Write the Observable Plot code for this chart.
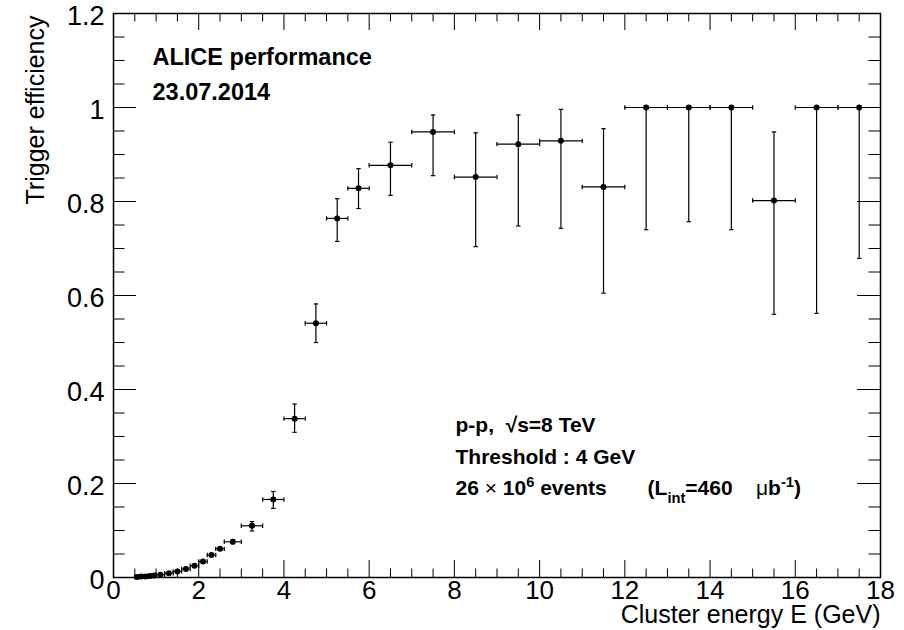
<!DOCTYPE html>
<html>
<head>
<meta charset="utf-8">
<script src="https://cdn.jsdelivr.net/npm/d3@7"></script>
<script src="https://cdn.jsdelivr.net/npm/@observablehq/plot@0.6"></script>
<style>
  html, body { margin: 0; padding: 0; background: #fff; }
  #chart svg text { white-space: pre; }
</style>
</head>
<body>
<div id="chart"></div>
<script>
// ---- data ----
const energy     = [0.55, 0.65, 0.75, 0.85, 0.95, 1.1, 1.3, 1.5, 1.7, 1.9, 2.1, 2.3, 2.5, 2.8, 3.25, 3.75, 4.25, 4.75, 5.25, 5.75, 6.5, 7.5, 8.5, 9.5, 10.5, 11.5, 12.5, 13.5, 14.5, 15.5, 16.5, 17.5];
const binHalf    = [0.05, 0.05, 0.05, 0.05, 0.05, 0.1, 0.1, 0.1, 0.1, 0.1, 0.1, 0.1, 0.1, 0.2, 0.25, 0.25, 0.25, 0.25, 0.25, 0.25, 0.5, 0.5, 0.5, 0.5, 0.5, 0.5, 0.5, 0.5, 0.5, 0.5, 0.5, 0.5];
const efficiency = [0.001, 0.002, 0.002, 0.003, 0.004, 0.006, 0.009, 0.013, 0.018, 0.025, 0.034, 0.048, 0.061, 0.076, 0.110, 0.166, 0.338, 0.541, 0.764, 0.828, 0.877, 0.948, 0.852, 0.922, 0.929, 0.831, 1.0, 1.0, 1.0, 0.802, 1.0, 1.0];
const errHigh    = [0.001, 0.001, 0.001, 0.001, 0.001, 0.001, 0.001, 0.002, 0.002, 0.002, 0.003, 0.003, 0.003, 0.004, 0.009, 0.017, 0.031, 0.041, 0.042, 0.042, 0.049, 0.036, 0.094, 0.062, 0.067, 0.124, 0.0, 0.0, 0.0, 0.146, 0.0, 0.0];
const errLow     = [0.001, 0.001, 0.001, 0.001, 0.001, 0.001, 0.001, 0.002, 0.002, 0.002, 0.003, 0.003, 0.003, 0.004, 0.011, 0.019, 0.029, 0.041, 0.049, 0.043, 0.064, 0.093, 0.148, 0.174, 0.186, 0.226, 0.260, 0.243, 0.260, 0.242, 0.438, 0.321];

const xTicks = [0, 2, 4, 6, 8, 10, 12, 14, 16, 18];
const yTicks = [0, 0.2, 0.4, 0.6, 0.8, 1, 1.2];
const xTitle = "Cluster energy E (GeV)";
const yTitle = "Trigger efficiency";
const aliceLines = ["ALICE performance", "23.07.2014"];
const infoLines = ["p-p,  √s=8 TeV", "Threshold : 4 GeV", "26 × 10^{6} events       (L_{int}=460    μb^{-1})"];

// ---- table built from the arrays ----
const points = energy.map((x, i) => ({
  x, y: efficiency[i],
  x1: x - binHalf[i], x2: Math.min(18, x + binHalf[i]),
  hi: efficiency[i] + errHigh[i], lo: efficiency[i] - errLow[i]
}));

// minor tick positions
const xMinor = d3.range(0, 18.001, 0.5).filter(v => Math.abs(v % 2) > 1e-9);
const yMinor = d3.range(0, 1.2001, 0.05).map(v => +v.toFixed(2)).filter(v => Math.abs((v * 5) - Math.round(v * 5)) > 1e-6);

// ---- layout ----
const W = 904, H = 630;
const mL = 113, mR = 24, mT = 13, mB = 53;
const plotW = W - mL - mR, plotH = H - mT - mB;
const font = "'Liberation Sans', Arial, Helvetica, sans-serif";

// cap symbols for error bar ends
const hCap = { draw(ctx, size) { const r = Math.sqrt(size / Math.PI); ctx.moveTo(-r, 0); ctx.lineTo(r, 0); } };
const vCap = { draw(ctx, size) { const r = Math.sqrt(size / Math.PI); ctx.moveTo(0, -r); ctx.lineTo(0, r); } };

const ink = "#000";
const chart = Plot.plot({
  width: W, height: H,
  marginLeft: mL, marginRight: mR, marginTop: mT, marginBottom: mB,
  style: { fontFamily: font, background: "#fff", color: ink, overflow: "visible" },
  x: { domain: [0, 18] },
  y: { domain: [0, 1.2] },
  marks: [
    // inward ticks: bottom / top
    Plot.tickX(xMinor, { x: d => d, insetTop: plotH - 8.5, stroke: ink }),
    Plot.tickX(xMinor, { x: d => d, insetBottom: plotH - 8.5, stroke: ink }),
    Plot.tickX(xTicks, { x: d => d, insetTop: plotH - 17, stroke: ink }),
    Plot.tickX(xTicks, { x: d => d, insetBottom: plotH - 17, stroke: ink }),
    // inward ticks: left / right
    Plot.tickY(yMinor, { y: d => d, insetRight: plotW - 11.5, stroke: ink }),
    Plot.tickY(yMinor, { y: d => d, insetLeft: plotW - 11.5, stroke: ink }),
    Plot.tickY(yTicks, { y: d => d, insetRight: plotW - 23, stroke: ink }),
    Plot.tickY(yTicks, { y: d => d, insetLeft: plotW - 23, stroke: ink }),
    // tick labels
    Plot.axisX(xTicks, { tickSize: 0, tickPadding: 3, fontSize: 26, label: null, tickFormat: d => String(d) }),
    Plot.axisY(yTicks, { tickSize: 0, tickPadding: 9, fontSize: 27, dy: 3, label: null, tickFormat: d => String(d) }),
    // axis titles
    Plot.text([xTitle], { text: d => d, frameAnchor: "bottom-right", textAnchor: "end", dy: 45, fontSize: 25, fill: ink }),
    Plot.text([yTitle], { text: d => d, frameAnchor: "top-left", textAnchor: "end", rotate: -90, dx: -87, dy: 2, fontSize: 25, fill: ink }),
    // error bars
    Plot.ruleX(points, { x: "x", y1: "lo", y2: "hi", stroke: ink, strokeWidth: 1.2 }),
    Plot.ruleY(points, { y: "y", x1: "x1", x2: "x2", stroke: ink, strokeWidth: 1.2 }),
    Plot.dot(points, { x: "x", y: "hi", symbol: hCap, r: 2.2, stroke: ink, strokeWidth: 1.2 }),
    Plot.dot(points, { x: "x", y: "lo", symbol: hCap, r: 2.2, stroke: ink, strokeWidth: 1.2 }),
    Plot.dot(points, { x: "x1", y: "y", symbol: vCap, r: 2.2, stroke: ink, strokeWidth: 1.2 }),
    Plot.dot(points.filter(p => p.x2 < 18), { x: "x2", y: "y", symbol: vCap, r: 2.2, stroke: ink, strokeWidth: 1.2 }),
    // markers
    Plot.dot(points, { x: "x", y: "y", r: 3, fill: ink, stroke: null }),
    // annotations
    ...aliceLines.map((t, i) => Plot.text([t], { text: d => d, frameAnchor: "top-left", textAnchor: "start", dx: 39, dy: 35 + i * 35, fontSize: 23.5, fontWeight: "bold", fill: ink })),
    ...infoLines.map((t, i) => Plot.text([t], { text: d => d, frameAnchor: "top-left", textAnchor: "start", dx: 342, dy: 404 + i * 31.5, fontSize: 21, fontWeight: "bold", fill: ink })),
    Plot.frame({ stroke: ink, strokeWidth: 1.5 })
  ]
});

// rich text: superscripts, subscripts, symbol glyphs in normal weight
d3.select(chart).selectAll("text").each(function () {
  const s = this.textContent;
  if (!/[\^_]\{/.test(s)) return;
  const fs = 21;
  const el = d3.select(this);
  el.text("");
  let shift = 0;
  s.split(/(\^\{[^}]*\}|_\{[^}]*\}|[×μ])/).filter(p => p !== "").forEach(p => {
    let target = 0, txt = p, small = false, normal = false;
    if (p.startsWith("^{")) { target = -0.42; txt = p.slice(2, -1); small = true; }
    else if (p.startsWith("_{")) { target = 0.34; txt = p.slice(2, -1); small = true; }
    else if (p === "×" || p === "μ") normal = true;
    const ts = el.append("tspan").text(txt);
    const d = (target - shift) * fs;
    if (d) ts.attr("dy", d);
    shift = target;
    if (small) ts.attr("font-size", fs * 0.7);
    if (normal) ts.attr("font-weight", "normal");
  });
});

document.getElementById("chart").appendChild(chart);
</script>
</body>
</html>
